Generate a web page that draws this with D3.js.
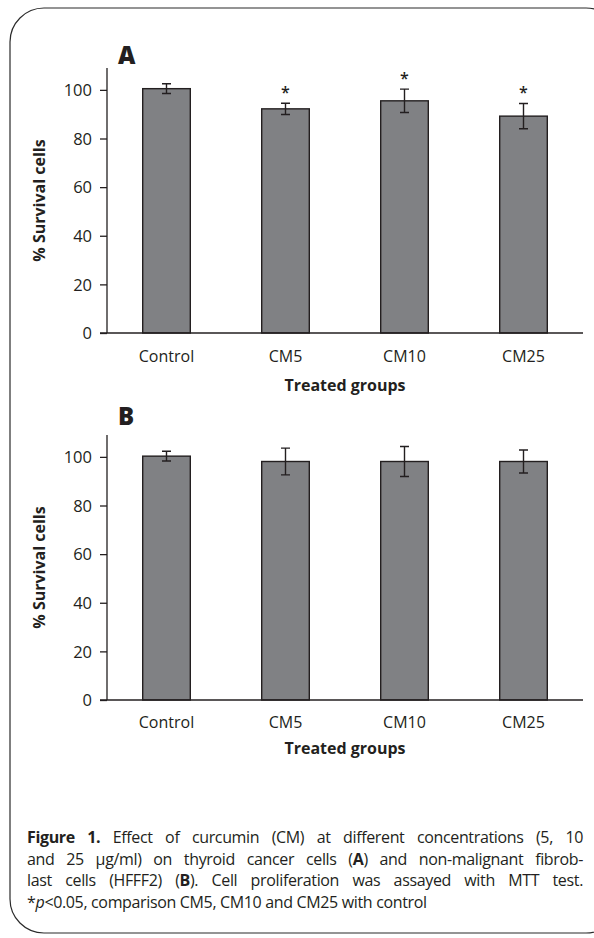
<!DOCTYPE html>
<html>
<head>
<meta charset="utf-8">
<script src="https://cdn.jsdelivr.net/npm/d3@7"></script>
<style>
  html, body { margin: 0; padding: 0; background: #fff; }
  svg { display: block; }
</style>
</head>
<body>
<svg id="chart" width="594" height="938"></svg>
<script>
// ---------- data ----------
const categories = ["Control", "CM5", "CM10", "CM25"];
const survivalA = [100.5, 92.2, 95.5, 89.2];
const errorA    = [2.0, 2.3, 4.8, 5.2];
const signifA   = [false, true, true, true];
const survivalB = [100.3, 98.1, 98.1, 98.1];
const errorB    = [2.0, 5.5, 6.2, 4.7];
const signifB   = [false, false, false, false];
const yTicks    = [0, 20, 40, 60, 80, 100];
const panelLabels = ["A", "B"];
const yTitle = "% Survival cells";
const xTitle = "Treated groups";

// ---------- styles ----------
const FONT = "'Open Sans', 'Noto Sans', 'DejaVu Sans', sans-serif";
const INK = "#231f20";
const BAR = "#808184";

const svg = d3.select("#chart");

// frame
svg.append("rect")
  .attr("x", 10).attr("y", 8)
  .attr("width", 610).attr("height", 925)
  .attr("rx", 34).attr("ry", 34)
  .attr("fill", "none").attr("stroke", "#2b2b2b").attr("stroke-width", 1.2);

function drawPanel(cfg) {
  const g = svg.append("g");
  const x = d3.scaleBand().domain(categories)
    .range([107, 583]).paddingInner(0.6).paddingOuter(0.3);
  const y = d3.scaleLinear().domain([0, 109]).range([cfg.bottom, cfg.bottom - 265]);

  // y axis
  const yAxis = d3.axisLeft(y).tickValues(yTicks).tickSize(7).tickPadding(8);
  const ya = g.append("g").attr("transform", "translate(107,0)").call(yAxis);
  ya.select(".domain").attr("d", `M0,${y(109)}V${y(0)}`).attr("stroke", INK).attr("stroke-width", 1.3);
  ya.selectAll(".tick line").attr("stroke", INK).attr("stroke-width", 1.3);
  ya.selectAll(".tick text").attr("font-family", FONT).attr("font-size", 16.5)
    .attr("fill", INK).attr("dy", "0.35em");

  // bars
  g.selectAll("rect.bar").data(cfg.values).join("rect")
    .attr("class", "bar")
    .attr("x", (d, i) => x(categories[i]))
    .attr("width", x.bandwidth())
    .attr("y", d => y(d))
    .attr("height", d => y(0) - y(d))
    .attr("fill", BAR).attr("stroke", INK).attr("stroke-width", 1.4);

  // x axis line
  g.append("line").attr("x1", 100).attr("x2", 583)
    .attr("y1", y(0)).attr("y2", y(0))
    .attr("stroke", INK).attr("stroke-width", 1.3);

  // error bars
  const cap = 4.5;
  cfg.values.forEach((v, i) => {
    const cx = x(categories[i]) + x.bandwidth() / 2;
    const lo = y(v - cfg.errors[i]), hi = y(v + cfg.errors[i]);
    g.append("path")
      .attr("d", `M${cx},${lo}V${hi}M${cx - cap},${lo}H${cx + cap}M${cx - cap},${hi}H${cx + cap}`)
      .attr("stroke", INK).attr("stroke-width", 1.4).attr("fill", "none");
    if (cfg.signif[i]) {
      g.append("text").attr("x", cx).attr("y", hi - 5)
        .attr("text-anchor", "middle").attr("font-family", FONT)
        .attr("font-size", 16).attr("font-weight", 600).attr("fill", INK).text("*");
    }
  });

  // x tick labels
  g.selectAll("text.xl").data(categories).join("text")
    .attr("class", "xl")
    .attr("x", d => x(d) + x.bandwidth() / 2)
    .attr("y", y(0) + cfg.xLabelDy)
    .attr("text-anchor", "middle").attr("font-family", FONT)
    .attr("font-size", 16).attr("fill", INK).text(d => d);

  // x title
  g.append("text").attr("x", 345).attr("y", y(0) + cfg.xTitleDy)
    .attr("text-anchor", "middle").attr("font-family", FONT)
    .attr("font-size", 16).attr("font-weight", 700).attr("fill", INK).text(xTitle);

  // y title
  g.append("text")
    .attr("transform", `translate(45,${(y(0) + y(109)) / 2}) rotate(-90)`)
    .attr("text-anchor", "middle").attr("font-family", FONT)
    .attr("font-size", 16).attr("font-weight", 700).attr("fill", INK).text(yTitle);

  // panel label
  g.append("text").attr("x", 118).attr("y", cfg.labelY)
    .attr("font-family", FONT).attr("font-size", 24).attr("font-weight", 800)
    .attr("fill", INK).text(cfg.label);
}

drawPanel({ bottom: 333, values: survivalA, errors: errorA, signif: signifA,
  label: panelLabels[0], labelY: 64, xLabelDy: 29, xTitleDy: 58 });
drawPanel({ bottom: 700, values: survivalB, errors: errorB, signif: signifB,
  label: panelLabels[1], labelY: 425, xLabelDy: 28, xTitleDy: 54 });

// ---------- caption (justified) ----------
const CAP_SIZE = 16;
const CAP_LS = -0.35;
const left = 27, right = 583, lineH = 21.6, firstBase = 843;
const tokens = [];
tokens.push({ t: "Figure", b: true }, { t: "1.", b: true });
"Effect of curcumin (CM) at different concentrations (5, 10 and 25 μg/ml) on thyroid cancer cells".split(" ").forEach(w => tokens.push({ t: w }));
tokens.push({ parts: [{ t: "(" }, { t: "A", b: true }, { t: ")" }] });
"and non-malignant fibrob- last cells (HFFF2)".split(" ").forEach(w => tokens.push({ t: w }));
tokens.push({ parts: [{ t: "(" }, { t: "B", b: true }, { t: ")." }] });
"Cell proliferation was assayed with MTT test.".split(" ").forEach(w => tokens.push({ t: w }));
tokens.push({ parts: [{ t: "*" }, { t: "p", i: true }, { t: "<0.05," }] });
"comparison CM5, CM10 and CM25 with control".split(" ").forEach(w => tokens.push({ t: w }));

const capG = svg.append("g");
function makeWord(tok) {
  const txt = capG.append("text").attr("font-family", FONT).attr("font-size", CAP_SIZE)
    .attr("letter-spacing", CAP_LS).attr("fill", INK);
  const parts = tok.parts || [tok];
  parts.forEach(p => {
    txt.append("tspan").text(p.t)
      .attr("font-weight", p.b ? 700 : 400)
      .attr("font-style", p.i ? "italic" : "normal");
  });
  return txt;
}
const lineBreakAfter = ["10", "fibrob-", "test."];
const lines = [[]];
tokens.forEach(tok => {
  lines[lines.length - 1].push(tok);
  const word = tok.parts ? tok.parts.map(p => p.t).join("") : tok.t;
  if (lines.length <= 3 && word === lineBreakAfter[lines.length - 1]) lines.push([]);
});
lines.forEach((ln, li) => {
  const els = ln.map(makeWord);
  const widths = els.map(e => e.node().getComputedTextLength());
  const total = d3.sum(widths);
  const last = li === lines.length - 1;
  const gap = last ? CAP_SIZE * 0.24 : (right - left - total) / (ln.length - 1);
  let xx = left;
  els.forEach((e, k) => {
    e.attr("x", xx).attr("y", firstBase + li * lineH);
    xx += widths[k] + gap;
  });
});
</script>
</body>
</html>
